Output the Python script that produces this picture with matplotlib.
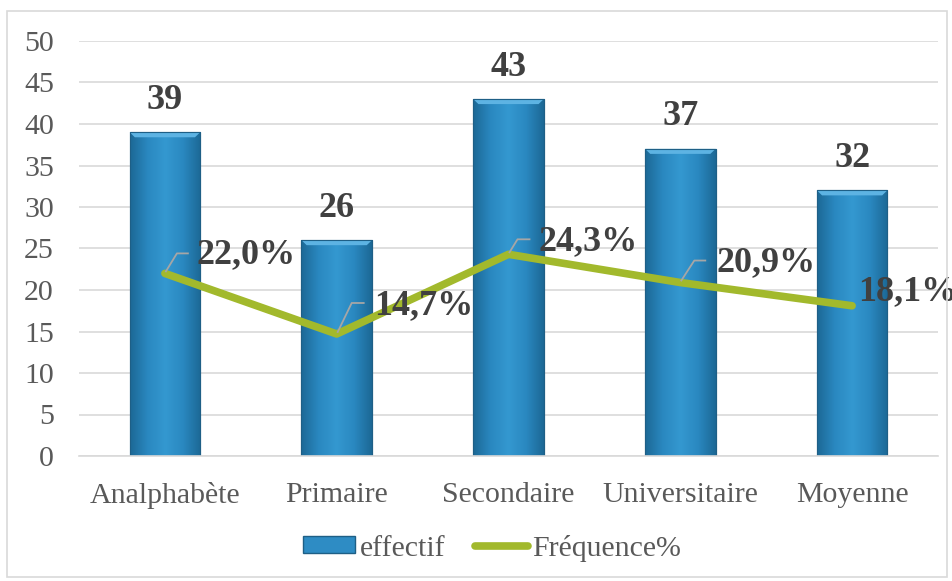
import numpy as np
import matplotlib
matplotlib.use("Agg")
import matplotlib.pyplot as plt
from matplotlib.colors import LinearSegmentedColormap
from matplotlib.lines import Line2D
from matplotlib.patches import Patch, Rectangle, Polygon
import matplotlib.transforms as mtransforms

categories = ["Analphabète", "Primaire", "Secondaire", "Universitaire", "Moyenne"]
effectif = [39, 26, 43, 37, 32]
frequence = [22.0, 14.7, 24.3, 20.9, 18.1]
freq_labels = ["22,0%", "14,7%", "24,3%", "20,9%", "18,1%"]
yticks = [0, 5, 10, 15, 20, 25, 30, 35, 40, 45, 50]

# layout: label offsets (pixels) and leader line (corner, end) offsets
label_off = [(32, 19), (37, 28), (30, 13), (36, 20), (6, 14)]
leader = [((12, 20), (23, 20)), ((15, 31), (27, 31)), ((9, 15), (21, 15)),
          ((14, 22), (25, 22)), None]

plt.rcParams['font.family'] = ['Liberation Serif', 'DejaVu Serif']

DPI = 100
fig = plt.figure(figsize=(9.53, 5.81), dpi=DPI)
ax = fig.add_axes([79/953, 1-456/581, (938-79)/953, (456-41)/581])
ax.set_xlim(-0.5, len(categories) - 0.5)
ax.set_ylim(0, 50)

# border
fig.patches.append(Rectangle((7/953, 4/581), 940/953, 566/581, transform=fig.transFigure,
                             fill=False, edgecolor='#D9D9D9', lw=1.2))

x = np.arange(len(categories))
bw = 0.41
bars = ax.bar(x, effectif, width=bw, color='#2E8CC4', edgecolor='#1E5F86', lw=0.8, zorder=2)

cmap = LinearSegmentedColormap.from_list('cyl', ['#1C6895', '#2A88C0', '#3498D0', '#2A88C0', '#1C6895'])
grad = np.linspace(0, 1, 256).reshape(1, -1)
for b in bars:
    x0, y0 = b.get_x(), b.get_y()
    w, h = b.get_width(), b.get_height()
    im = ax.imshow(grad, extent=[x0, x0 + w, y0, y0 + h], aspect='auto', cmap=cmap,
                   zorder=2.1, origin='lower')
    im.set_clip_path(b)
    # top bevel (slanted corners)
    dx, dy = 0.03, 0.6
    ax.add_patch(Polygon([(x0, y0 + h), (x0 + w, y0 + h), (x0 + w - dx, y0 + h - dy),
                          (x0 + dx, y0 + h - dy)], closed=True, facecolor='#5DB3E3',
                         edgecolor='none', zorder=2.2))
    ax.add_patch(Rectangle((x0, y0), w, h, fill=False, edgecolor='#1E5F86', lw=0.8, zorder=2.3))

for xi, v in zip(x, effectif):
    ax.annotate(str(v), (xi, v), xytext=(0, 32), textcoords='offset pixels',
                ha='center', va='center', fontsize=26, fontweight='bold', color='#404040',
                zorder=5)

ax.plot(x, frequence, color='#A2B92C', lw=5.5, solid_capstyle='round',
        solid_joinstyle='round', zorder=3)

for i, (xi, v) in enumerate(zip(x, frequence)):
    ax.annotate(freq_labels[i], (xi, v), xytext=label_off[i], textcoords='offset pixels',
                ha='left', va='center', fontsize=26, fontweight='bold', color='#404040',
                zorder=6, annotation_clip=False)
    if leader[i] is not None:
        (cx, cy), (ex, ey) = leader[i]
        tr = mtransforms.IdentityTransform() + mtransforms.ScaledTranslation(xi, v, ax.transData)
        ln = Line2D([1, cx, ex], [2, cy, ey], transform=tr, color='#A6A6A6', lw=1.3, zorder=4)
        fig.add_artist(ln)

ax.set_yticks(yticks)
ax.set_xticks(x)
ax.set_xticklabels(categories)
ax.tick_params(axis='both', length=0, labelsize=21.5, colors='#595959')
ax.tick_params(axis='x', pad=19)
ax.tick_params(axis='y', pad=18)
ax.grid(axis='y', color='#D9D9D9', lw=1.2, zorder=0)
ax.set_axisbelow(True)
for s in ['top', 'right', 'left']:
    ax.spines[s].set_visible(False)
ax.spines['bottom'].set_color('#D9D9D9')
ax.spines['bottom'].set_linewidth(1.2)

handles = [Patch(facecolor='#2E8CC4', edgecolor='#1E5F86', label='effectif'),
           Line2D([0], [0], color='#A2B92C', lw=5.5, solid_capstyle='round', label='Fréquence%')]
leg = fig.legend(handles=handles, loc='center', bbox_to_anchor=(492/953, 1-548/581), ncol=2,
                 frameon=False, fontsize=21.5, handlelength=1.75, handleheight=0.5,
                 handletextpad=0.15, columnspacing=1.0, labelcolor='#595959',
                 borderpad=0, borderaxespad=0)

fig.savefig('out.png', dpi=DPI)
